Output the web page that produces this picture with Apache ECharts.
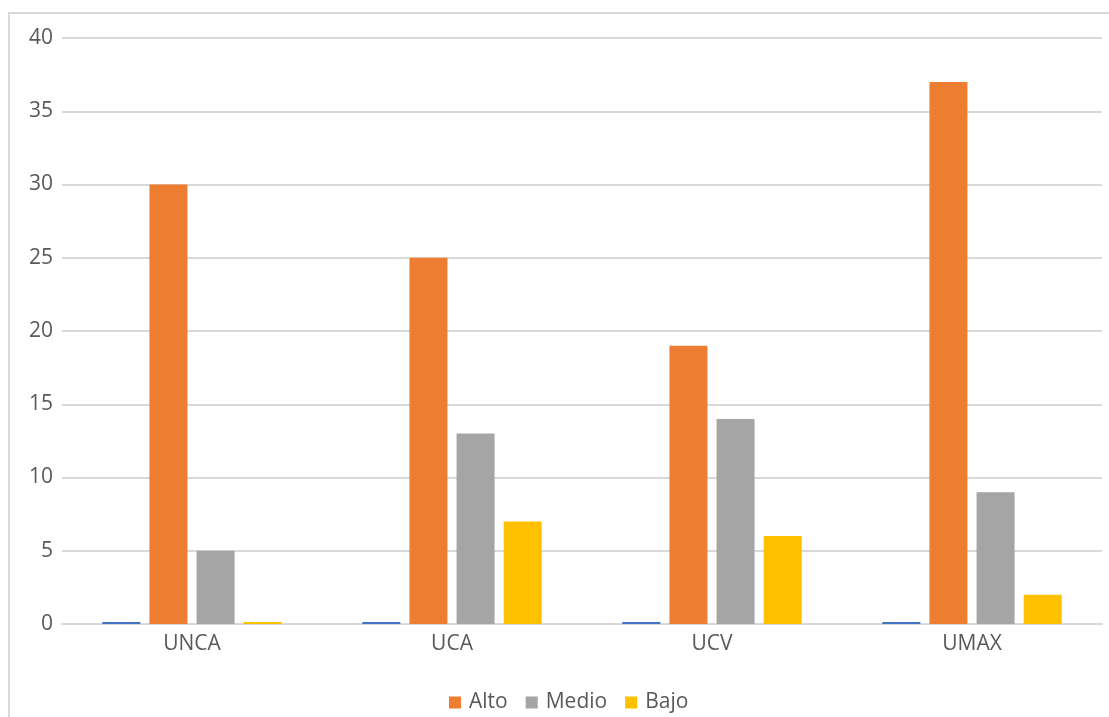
<!DOCTYPE html>
<html>
<head>
<meta charset="utf-8">
<script src="https://cdn.jsdelivr.net/npm/echarts@6/dist/echarts.min.js"></script>
<style>
html,body{margin:0;padding:0;background:#fff;}
#frame{position:absolute;left:8px;top:12px;width:1110px;height:720px;border:2px solid #d9d9d9;box-sizing:border-box;}
#chart{position:absolute;left:0;top:0;width:1109px;height:717px;}
</style>
</head>
<body>
<div id="frame"></div>
<div id="chart"></div>
<script>
const categories = ['UNCA', 'UCA', 'UCV', 'UMAX'];
const serie1 = [0, 0, 0, 0];
const alto = [30, 25, 19, 37];
const medio = [5, 13, 14, 9];
const bajo = [0, 7, 6, 2];
const yTicks = [0, 5, 10, 15, 20, 25, 30, 35, 40];

const chart = echarts.init(document.getElementById('chart'));
const font = 'Open Sans';
function barSeries(name, data, color) {
  return {
    name: name, type: 'bar', data: data,
    barWidth: 38, barGap: '24%',
    itemStyle: { color: color },
    barMinHeight: 2,
    animation: false
  };
}
chart.setOption({
  animation: false,
  grid: { left: 62, right: 7, top: 38, bottom: 93, containLabel: false },
  legend: {
    data: ['Alto', 'Medio', 'Bajo'],
    bottom: -1, left: 444,
    icon: 'rect', itemWidth: 12, itemHeight: 12, itemGap: 18,
    textStyle: { color: '#595959', fontSize: 21, fontFamily: font, padding: [0, 0, 0, 3] }
  },
  xAxis: {
    type: 'category', data: categories,
    axisLine: { lineStyle: { color: '#d9d9d9', width: 2 } },
    axisTick: { show: false },
    axisLabel: { color: '#595959', fontSize: 21, fontFamily: font, margin: 10 }
  },
  yAxis: {
    type: 'value', min: 0, max: 40, interval: 5,
    axisLine: { show: false }, axisTick: { show: false },
    splitLine: { lineStyle: { color: '#d9d9d9', width: 2 } },
    axisLabel: { color: '#595959', fontSize: 21, fontFamily: font, margin: 9,
      formatter: v => yTicks.includes(v) ? String(v) : '' }
  },
  series: [
    barSeries('Serie1', serie1, '#4472c4'),
    barSeries('Alto', alto, '#ed7d31'),
    barSeries('Medio', medio, '#a5a5a5'),
    barSeries('Bajo', bajo, '#ffc000')
  ]
});
</script>
</body>
</html>
